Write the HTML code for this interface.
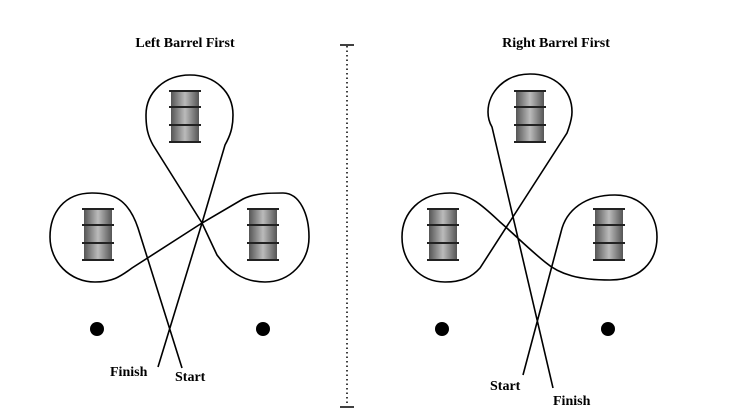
<!DOCTYPE html>
<html><head><style>
html,body{margin:0;padding:0;background:#fff;}
svg{display:block;}
text{font-family:"Liberation Serif",serif;font-weight:bold;fill:#000;}
</style></head><body>
<svg width="735" height="420" viewBox="0 0 735 420" xmlns="http://www.w3.org/2000/svg">
<defs>
<linearGradient id="g" x1="0" x2="1" y1="0" y2="0">
<stop offset="0" stop-color="#555"/><stop offset="0.5" stop-color="#bbb"/><stop offset="1" stop-color="#555"/>
</linearGradient>
<g id="b">
<rect x="2" y="0" width="28" height="52" fill="url(#g)"/>
<rect x="0" y="0" width="32" height="2" fill="#222"/>
<rect x="0" y="16" width="32" height="2" fill="#222"/>
<rect x="0" y="34" width="32" height="2" fill="#222"/>
<rect x="0" y="51" width="32" height="2" fill="#222"/>
</g>
</defs>
<text x="185" y="47" font-size="14" text-anchor="middle">Left Barrel First</text>
<text x="556" y="47" font-size="14" text-anchor="middle">Right Barrel First</text>
<line x1="347" y1="46" x2="347" y2="406" stroke="#000" stroke-width="1.5" stroke-dasharray="1.5,3"/>
<line x1="340" y1="45" x2="354" y2="45" stroke="#000" stroke-width="1.5"/>
<line x1="340" y1="407" x2="354" y2="407" stroke="#000" stroke-width="1.5"/>

<use href="#b" x="169" y="90"/>
<use href="#b" x="82" y="208"/>
<use href="#b" x="247" y="208"/>
<circle cx="97" cy="329" r="7"/>
<circle cx="263" cy="329" r="7"/>
<path fill="none" stroke="#000" stroke-width="1.6" d="M182,368 L138,228 C128,198 112,193 92,193 C64,193 50,213 50,237 C50,262 70,282 95,282 C112,282 120,277 132,268 L202,223 L243,199 C255,193 270,193 283,193 C300,193 309,215 309,237 C309,262 290,282 265,282 C242,282 228,270 217,255 L202,223 L153,145 C148,136 146,128 146,115 C146,92 165,75 190,75 C215,75 233,92 233,115 C233,128 230,136 225,145 L202,223 L158,367"/>
<text x="110" y="376" font-size="14">Finish</text>
<text x="175" y="381" font-size="14">Start</text>

<use href="#b" x="514" y="90"/>
<use href="#b" x="427" y="208"/>
<use href="#b" x="593" y="208"/>
<circle cx="442" cy="329" r="7"/>
<circle cx="608" cy="329" r="7"/>
<path fill="none" stroke="#000" stroke-width="1.6" d="M523,375 L561,232 C566,210 585,195 615,195 C640,195 657,213 657,237 C657,262 640,280 610,280 C580,280 560,275 545,262 C530,250 515,235 500,222 C485,208 470,193 450,193 C420,193 402,213 402,237 C402,262 420,282 445,282 C462,282 472,277 480,268 L567,133 C570,125 572,118 572,112 C572,90 555,74 530,74 C505,74 488,92 488,112 C488,118 489,122 492,127 L553,388"/>
<text x="490" y="390" font-size="14">Start</text>
<text x="553" y="405" font-size="14">Finish</text>
</svg>
</body></html>
